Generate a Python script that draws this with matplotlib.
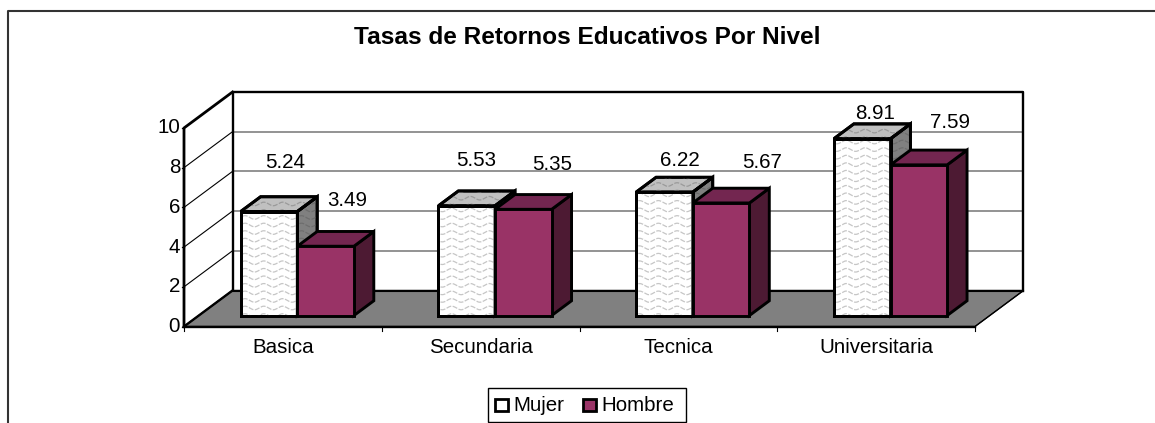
import numpy as np
import matplotlib
matplotlib.use('Agg')
import matplotlib.pyplot as plt
from matplotlib.patches import Polygon, Rectangle

plt.rcParams['font.family'] = ['Liberation Sans', 'DejaVu Sans']

categorias = ['Basica', 'Secundaria', 'Tecnica', 'Universitaria']
mujer = [5.24, 5.53, 6.22, 8.91]
hombre = [3.49, 5.35, 5.67, 7.59]
ticks_y = [0, 2, 4, 6, 8, 10]

# centro de las etiquetas en pixeles, estan movidas a mano en el original
etq_mujer_xy = [(285, 162), (476, 161), (680, 160), (875, 113)]
etq_hombre_xy = [(347, 200), (552, 165), (762, 163), (950, 122)]

W, H = 1155, 423
# plano frontal del grafico, en pixeles
x0, x1, y0, y1 = 184, 975, 326.5, 128

fig = plt.figure(figsize=(W/100, H/100), dpi=100)
ax = fig.add_axes([x0/W, 1-y0/H, (x1-x0)/W, (y0-y1)/H])
ax.set_xlim(0, 4)
ax.set_ylim(0, 10)
ax.axis('off')

# profundidad 3D en unidades de datos
DX = 48.5/(x1-x0)*4
DY = 36/(y0-y1)*10
bar_w = 56.6/(x1-x0)*4
desde = 0.305   # donde empieza la barra en la profundidad
fondo = 0.41    # fondo de la barra
FS = 14.8


def poly(pts, fc, lw=2.1, ec='black', z=2):
    p = Polygon(pts, closed=True, fc=fc, ec=ec, lw=lw, clip_on=False, zorder=z, joinstyle='miter')
    ax.add_patch(p)
    return p


# suelo
poly([(0, 0), (4, 0), (4+DX, DY), (DX, DY)], '#808080', lw=1.0)
# pared izquierda y fondo
ax.plot([DX, DX, 4+DX, 4+DX], [DY, 10+DY, 10+DY, DY], color='black', lw=1.7, clip_on=False, zorder=1.5)
ax.plot([DX, 4+DX], [DY, DY], color='black', lw=1.5, clip_on=False, zorder=2)
ax.plot([0, 0, DX], [0, 10, 10+DY], color='black', lw=2.0, clip_on=False, zorder=1.5)
ax.plot([0, 4], [0, 0], color='black', lw=1.7, clip_on=False, zorder=2)
ax.plot([0, DX], [0, DY], color='black', lw=1.7, clip_on=False, zorder=2)
for v in ticks_y[1:]:
    if v < 10:
        ax.plot([0, DX], [v, v+DY], color='black', lw=0.8, clip_on=False, zorder=1)
    ax.plot([DX, 4+DX], [v+DY, v+DY], color='#808080', lw=1.2, clip_on=False, zorder=1)
ax.plot([4, 4+DX], [0, DY], color='black', lw=0.7, clip_on=False, zorder=2)

# ticks
for v in ticks_y:
    ax.plot([-0.012, 0], [v, v], color='black', lw=0.9, clip_on=False, zorder=2)
    ax.text(-0.02, v, str(v), ha='right', va='center', fontsize=FS, clip_on=False)
for i in range(5):
    ax.plot([i, i], [0, -0.22], color='black', lw=0.8, clip_on=False, zorder=2)


def ondas(xa, xb, ya, yb, clip, color):
    # relleno ondulado de la serie Mujer
    n_filas = int((yb-ya)/0.38) + 2
    xs = np.linspace(xa-0.05, xb+0.05, 160)
    for k in range(n_filas):
        ys = ya + k*0.38 + 0.09*np.sin(2*np.pi*xs/0.095)
        l, = ax.plot(xs, ys, color=color, lw=0.9, ls=(0, (4, 1.2)), zorder=clip.get_zorder()+0.1)
        l.set_clip_path(clip)


def barra(xa, v, cara, tapa, lado, z, wavy=False):
    ox, oy = desde*DX, desde*DY
    dx, dy = fondo*DX, fondo*DY
    xf, xb = xa+ox, xa+ox+bar_w
    base, top = oy, v+oy
    lad = [(xb, base), (xb+dx, base+dy), (xb+dx, top+dy), (xb, top)]
    tap = [(xf, top), (xb, top), (xb+dx, top+dy), (xf+dx, top+dy)]
    fre = [(xf, base), (xb, base), (xb, top), (xf, top)]
    pl = poly(lad, lado, z=z)
    pt = poly(tap, tapa, z=z+0.2)
    pf = poly(fre, cara, z=z+0.4)
    if wavy:
        ondas(xf, xb, base, top, pf, '#c6c6c6')
        ondas(xb, xb+dx, base, top+dy, pl, '#6e6e6e')
        ondas(xf, xb+dx, top, top+dy, pt, '#9a9a9a')
        # volver a pintar los bordes encima de las ondas
        poly(lad, 'none', z=z+0.6)
        poly(tap, 'none', z=z+0.6)
        poly(fre, 'none', z=z+0.6)


for i in range(4):
    # la union de las dos barras queda cerca del centro de la categoria
    xm = i + 0.5 - desde*DX - bar_w + 0.073
    xh = xm + bar_w
    barra(xm, mujer[i], 'white', '#c0c0c0', '#808080', 3, wavy=True)
    barra(xh, hombre[i], '#993366', '#732650', '#4d1a33', 4)
    ax.text(i+0.5, -1.05, categorias[i], ha='center', va='center', fontsize=FS)
    mx, my = etq_mujer_xy[i]
    hx, hy = etq_hombre_xy[i]
    fig.text(mx/W, 1-my/H, f'{mujer[i]:.2f}', ha='center', va='center', fontsize=FS, zorder=6)
    fig.text(hx/W, 1-hy/H, f'{hombre[i]:.2f}', ha='center', va='center', fontsize=FS, zorder=6)

# marco exterior: solo arriba e izquierda, lo demas esta cortado
fig.add_artist(plt.Line2D([8/W, 8/W, 1], [0, 1-11/H, 1-11/H], color='#333333', lw=1.5))
fig.text(587.5/W, 1-38/H, 'Tasas de Retornos Educativos Por Nivel', ha='center', va='center', fontsize=17.6, fontweight='bold')

# leyenda hecha a mano para copiar el recuadro
fig.add_artist(Rectangle((488/W, 1-421.5/H), 198/W, 33.5/H, transform=fig.transFigure, fc='white', ec='black', lw=1.0))
fig.add_artist(Rectangle((494.5/W, 1-411/H), 13.5/W, 12.5/H, transform=fig.transFigure, fc='white', ec='black', lw=2.0))
fig.add_artist(Rectangle((583/W, 1-411/H), 13.5/W, 12.5/H, transform=fig.transFigure, fc='#993366', ec='black', lw=2.0))
fig.text(513/W, 1-405/H, 'Mujer', ha='left', va='center', fontsize=FS)
fig.text(601/W, 1-405/H, 'Hombre', ha='left', va='center', fontsize=FS)

fig.savefig('out.png', dpi=100)
